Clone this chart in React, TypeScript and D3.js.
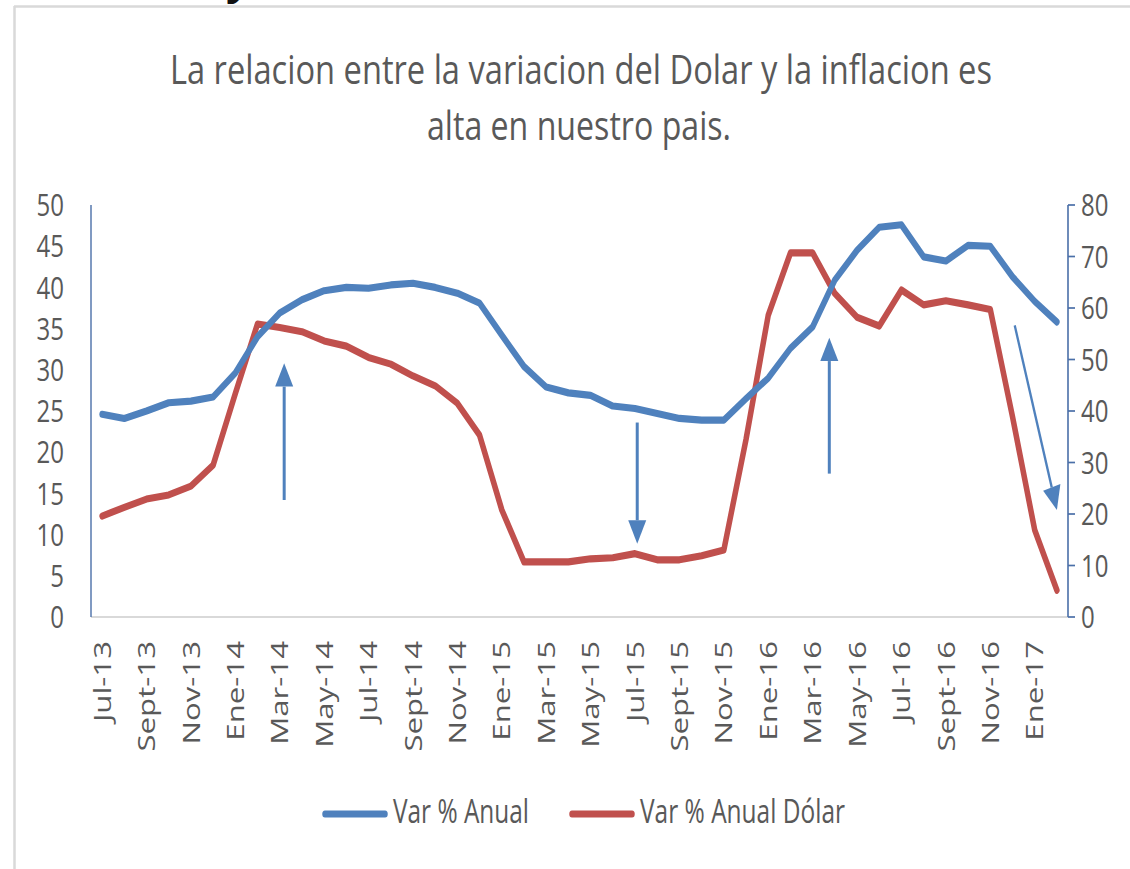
import React from 'react';
import * as d3 from 'd3';

// the reference is vertically stretched, so everything is drawn in a group scaled by S on y
const S = 1.3;
const W = 1130;
const H = 869;

const months = [
  'Jul-13', 'Ago-13', 'Sept-13', 'Oct-13', 'Nov-13', 'Dic-13',
  'Ene-14', 'Feb-14', 'Mar-14', 'Abr-14', 'May-14', 'Jun-14', 'Jul-14', 'Ago-14', 'Sept-14', 'Oct-14', 'Nov-14', 'Dic-14',
  'Ene-15', 'Feb-15', 'Mar-15', 'Abr-15', 'May-15', 'Jun-15', 'Jul-15', 'Ago-15', 'Sept-15', 'Oct-15', 'Nov-15', 'Dic-15',
  'Ene-16', 'Feb-16', 'Mar-16', 'Abr-16', 'May-16', 'Jun-16', 'Jul-16', 'Ago-16', 'Sept-16', 'Oct-16', 'Nov-16', 'Dic-16',
  'Ene-17', 'Feb-17',
];

// Var % Anual (left axis)
const varAnual = [
  24.6, 24.1, 25.0, 26.0, 26.2, 26.7,
  29.6, 34.0, 36.9, 38.5, 39.6, 40.0, 39.9, 40.3, 40.5, 40.0, 39.3, 38.1,
  34.2, 30.4, 27.9, 27.2, 26.9, 25.6, 25.3, 24.7, 24.1, 23.9, 23.9, 26.5,
  29.0, 32.6, 35.2, 40.9, 44.5, 47.3, 47.6, 43.7, 43.2, 45.1, 45.0, 41.3,
  38.3, 35.8,
];

// Var % Anual Dólar (right axis)
const varDolar = [
  19.6, 21.3, 22.9, 23.7, 25.4, 29.5,
  43.4, 56.9, 56.2, 55.4, 53.6, 52.6, 50.4, 49.1, 46.8, 44.9, 41.5, 35.3,
  20.8, 10.7, 10.7, 10.7, 11.3, 11.5, 12.3, 11.1, 11.1, 11.9, 13.0, 34.5,
  58.6, 70.7, 70.7, 62.8, 58.2, 56.5, 63.5, 60.6, 61.4, 60.6, 59.7, 38.9,
  16.9, 5.2,
];

const leftTicks = [0, 5, 10, 15, 20, 25, 30, 35, 40, 45, 50];
const rightTicks = [0, 10, 20, 30, 40, 50, 60, 70, 80];

// annotation arrows: month index and left-axis value for start and tip
const arrows = [
  { x0: 8.2, v0: 14.2, x1: 8.2, v1: 30.8, w: 3 },
  { x0: 24.1, v0: 23.6, x1: 24.1, v1: 8.9, w: 3 },
  { x0: 32.75, v0: 17.4, x1: 32.75, v1: 33.9, w: 3 },
  { x0: 41.1, v0: 35.4, x1: 43.0, v1: 13.0, w: 2.3 },
];

const titleLines = ['La relacion entre la variacion del Dolar y la inflacion es', 'alta en nuestro pais.'];
const seriesNames = ['Var % Anual', 'Var % Anual Dólar'];

const BLUE = '#4f81bd';
const RED = '#c0504d';
const AXIS = '#4a6fa8';
const TXT = '#595959';
const FONT = "'Open Sans', 'Liberation Sans', sans-serif";

const plot = { left: 91, right: 1068, top: 205 / S, bottom: 617 / S };

export default function App() {
  const x = d3.scaleLinear().domain([-0.5, months.length - 0.5]).range([plot.left, plot.right]);
  const yL = d3.scaleLinear().domain([0, 50]).range([plot.bottom, plot.top]);
  const yR = d3.scaleLinear().domain([0, 80]).range([plot.bottom, plot.top]);

  const lineL = d3.line<number>().x((_, i) => x(i)).y(d => yL(d));
  const lineR = d3.line<number>().x((_, i) => x(i)).y(d => yR(d));

  const arrowShapes = arrows.map(a => {
    const sx = x(a.x0), sy = yL(a.v0), tx = x(a.x1), ty = yL(a.v1);
    const dx = tx - sx, dy = ty - sy;
    const len = Math.hypot(dx, dy);
    const ux = dx / len, uy = dy / len;
    const hl = 18, hw = 9;
    const bx = tx - ux * hl, by = ty - uy * hl;
    const head = [
      [tx, ty],
      [bx - uy * hw, by + ux * hw],
      [bx + uy * hw, by - ux * hw],
    ];
    return { sx, sy, bx, by, head, w: a.w };
  });

  return (
    <svg
      width={W}
      height={H}
      style={{ position: 'absolute', left: 0, top: 0, background: '#fff' }}
      fontFamily={FONT}
    >
      <rect x={0} y={0} width={W} height={H} fill="#fff" />
      {/* cut-off glyph of the document text above the chart */}
      <text x={226} y={-7} fontSize={44} fontWeight="bold" fill="#111">y</text>
      {/* chart frame */}
      <line x1={14.5} y1={6} x2={14.5} y2={H} stroke="#d9d9d9" strokeWidth={2.5} />
      <line x1={14} y1={6.5} x2={W} y2={6.5} stroke="#d9d9d9" strokeWidth={2.5} />

      <g transform={`scale(1,${S})`}>
        {/* title */}
        <text x={581} y={84 / S} textAnchor="middle" fontSize={30.5} fill={TXT}
          textLength={822} lengthAdjust="spacingAndGlyphs">{titleLines[0]}</text>
        <text x={579} y={140 / S} textAnchor="middle" fontSize={30.5} fill={TXT}
          textLength={304} lengthAdjust="spacingAndGlyphs">{titleLines[1]}</text>

        {/* axes */}
        <line x1={plot.left} x2={plot.right} y1={plot.bottom} y2={plot.bottom} stroke="#d9d9d9" strokeWidth={1.6} />
        <line x1={plot.left} x2={plot.left} y1={plot.top} y2={plot.bottom} stroke={AXIS} strokeWidth={1.4} />
        <line x1={plot.right} x2={plot.right} y1={plot.top} y2={plot.bottom} stroke={AXIS} strokeWidth={1.6} />
        {rightTicks.map(t => (
          <line key={'rt' + t} x1={plot.right} x2={plot.right + 7} y1={yR(t)} y2={yR(t)} stroke={AXIS} strokeWidth={1.3} />
        ))}
        {leftTicks.map(t => (
          <text key={'lt' + t} x={64} y={yL(t)} dy="0.36em" textAnchor="end" fontSize={24} fill={TXT}>{t}</text>
        ))}
        {rightTicks.map(t => (
          <text key={'rl' + t} x={1081} y={yR(t)} dy="0.36em" textAnchor="start" fontSize={24} fill={TXT}>{t}</text>
        ))}
        {months.map((m, i) => (i % 2 === 0 ? (
          <text key={m} transform={`translate(${x(i)},${641 / S}) rotate(-90)`} dy="0.36em"
            textAnchor="end" fontSize={24} fill={TXT}>{m}</text>
        ) : null))}

        {/* series */}
        <path d={lineR(varDolar) || ''} fill="none" stroke={RED} strokeWidth={5.5}
          strokeLinejoin="round" strokeLinecap="round" />
        <path d={lineL(varAnual) || ''} fill="none" stroke={BLUE} strokeWidth={5.5}
          strokeLinejoin="round" strokeLinecap="round" />

        {/* arrows */}
        {arrowShapes.map((a, i) => (
          <g key={'ar' + i}>
            <line x1={a.sx} y1={a.sy} x2={a.bx} y2={a.by} stroke={BLUE} strokeWidth={a.w} />
            <polygon points={a.head.map(p => p.join(',')).join(' ')} fill={BLUE} />
          </g>
        ))}

        {/* legend */}
        <line x1={325} x2={385} y1={814 / S} y2={814 / S} stroke={BLUE} strokeWidth={5.5} strokeLinecap="round" />
        <text x={393} y={823 / S} fontSize={25} fill={TXT} textLength={136} lengthAdjust="spacingAndGlyphs">{seriesNames[0]}</text>
        <line x1={572} x2={632} y1={814 / S} y2={814 / S} stroke={RED} strokeWidth={5.5} strokeLinecap="round" />
        <text x={640} y={823 / S} fontSize={25} fill={TXT} textLength={205} lengthAdjust="spacingAndGlyphs">{seriesNames[1]}</text>
      </g>
    </svg>
  );
}
